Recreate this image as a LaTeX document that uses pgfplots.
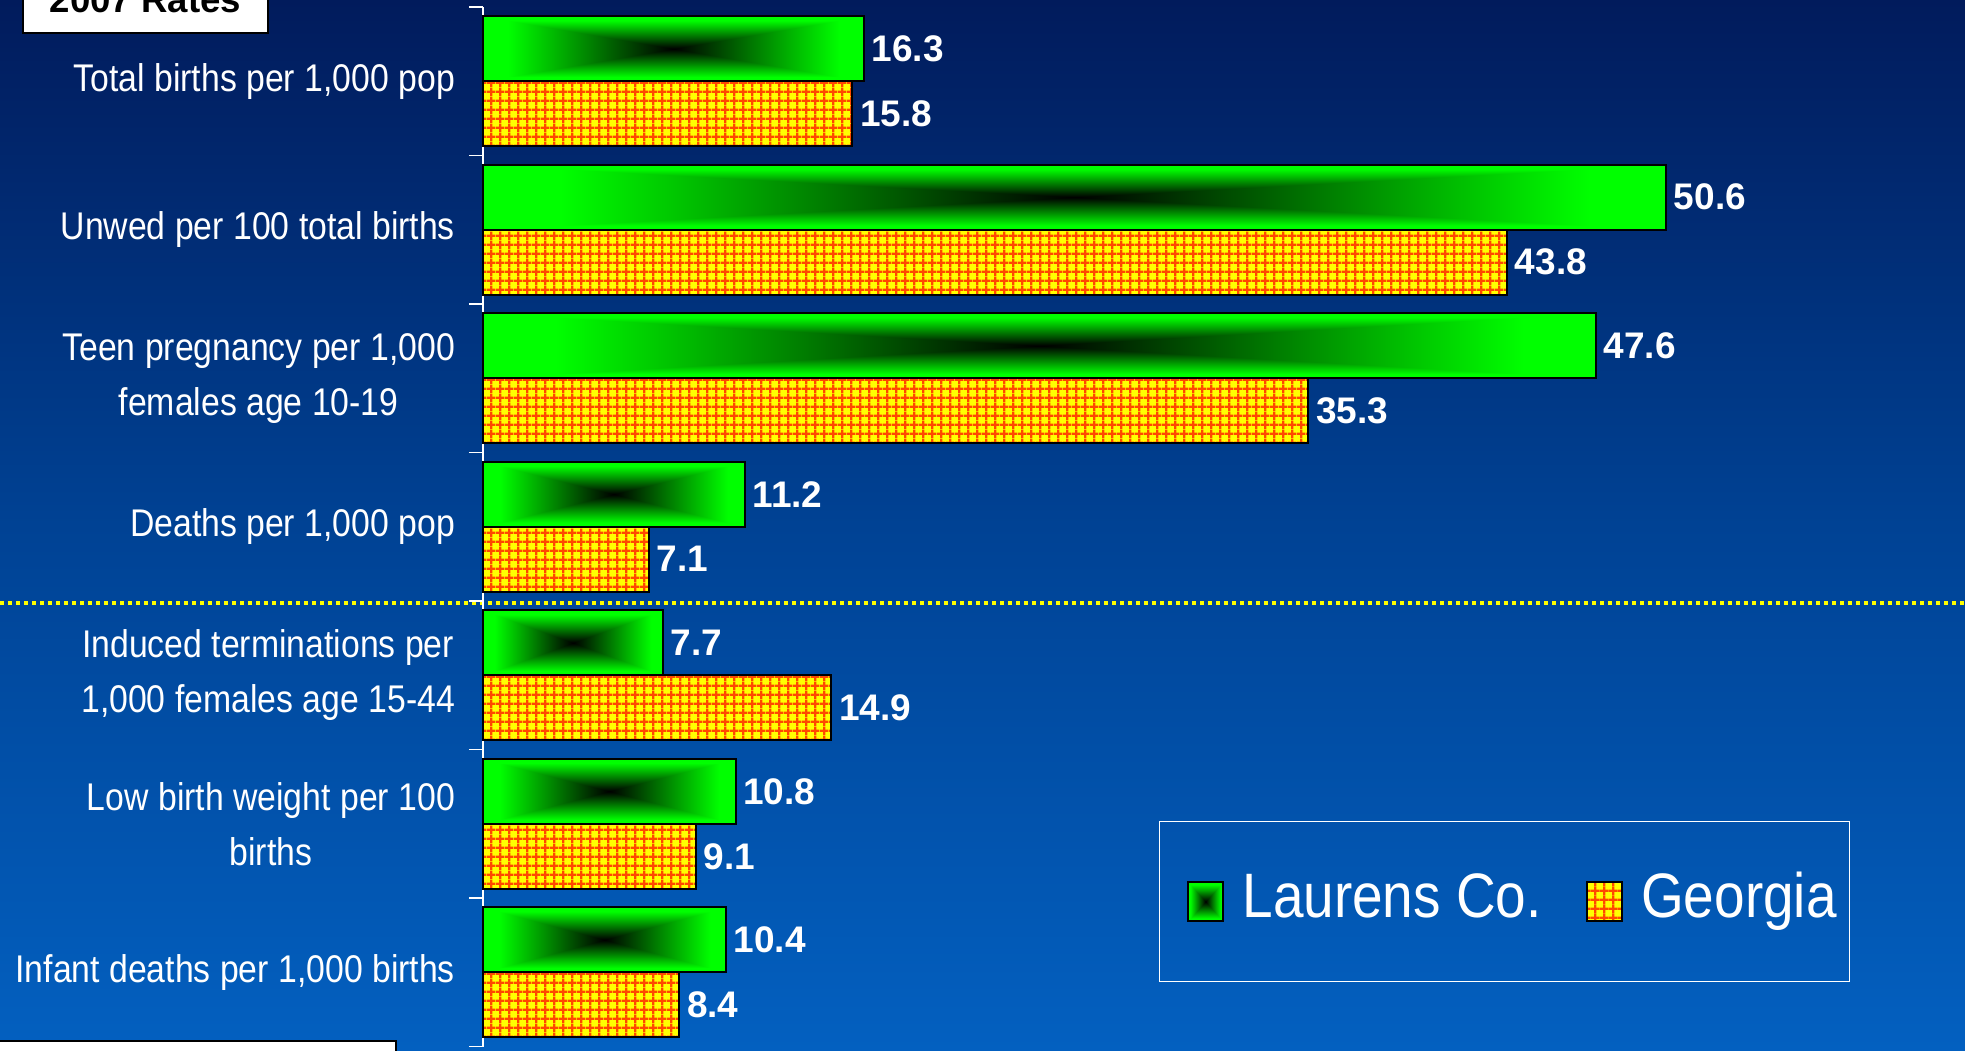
\documentclass[border=0pt]{standalone}
\usepackage{fontspec}
\setmainfont{Liberation Sans}
\newfontfamily\narrow[FakeStretch=0.875]{Liberation Sans}
\usepackage{pgfplots}
\pgfplotsset{compat=1.18}
\usetikzlibrary{patterns.meta}

\definecolor{bgtop}{RGB}{1,27,92}
\definecolor{bgmid}{RGB}{0,66,148}
\definecolor{bgbot}{RGB}{3,96,192}
\definecolor{gridred}{RGB}{255,72,0}
\definecolor{gridyellow}{RGB}{255,255,0}

% green "from centre" rectangular gradient, black in the middle
\pgfdeclarefunctionalshading{rectgreen}{\pgfpoint{0bp}{0bp}}{\pgfpoint{100bp}{100bp}}{}{
  50 sub abs 25 div
  exch 50 sub abs 25 div
  2 copy lt {exch} if pop
  1.15 mul
  dup 1 gt {pop 1} if
  0 exch 0
}

% yellow cells with red-orange grid lines
\tikzdeclarepattern{
  name=cellgrid,
  type=uncolored,
  bottom left={(0pt,0pt)},
  top right={(4.6pt,4.6pt)},
  tile size={(4.6pt,4.6pt)},
  code={
    \draw[line width=1.2pt] (0pt,2.3pt) -- (4.6pt,2.3pt);
    \draw[line width=1.2pt] (2.3pt,0pt) -- (2.3pt,4.6pt);
  }
}

% one plot per green bar so that each bar gets its own shading
\pgfplotsset{
  greenbar/.style={draw=black, line width=1pt, shading=rectgreen, bar shift=16.25pt},
  orangebar/.style={draw=black, line width=1pt, preaction={fill=gridyellow}, pattern=cellgrid, pattern color=gridred, bar shift=-16.25pt},
}

\begin{document}
\begin{tikzpicture}
\useasboundingbox (0,0) rectangle (982.5pt,525pt);
\clip (0,0) rectangle (982.5pt,525pt);
\shade[top color=bgtop, bottom color=bgbot, middle color=bgmid] (0,0) rectangle (982.5pt,525pt);
\draw[gridyellow, line width=2pt, dash pattern=on 2pt off 2pt] (0,223.5pt) -- (982.5pt,223.5pt);
\filldraw[fill=white, draw=black, line width=1pt] (11.5pt,508.5pt) rectangle (134pt,560pt);
\node[anchor=base, font=\bfseries\fontsize{18.3}{20}\selectfont, text=black, inner sep=0pt] at (72.75pt,518.5pt) {2007 Rates};
\filldraw[fill=white, draw=black, line width=1pt] (-5pt,-20pt) rectangle (198pt,4.5pt);

\begin{axis}[
    at={(241.5pt,1.75pt)}, anchor=south west,
    scale only axis, width=701.5pt, height=519.75pt,
    xmin=0, xmax=60, ymin=-0.5, ymax=6.5, y dir=reverse,
    hide x axis, axis y line*=left,
    y axis line style={white, line width=0.7pt},
    ytick={0,...,6},
    yticklabels={{Total births per 1,000 pop},{Unwed per 100 total births},{Teen pregnancy per 1,000\\females age 10-19},{Deaths per 1,000 pop},{Induced terminations per\\1,000 females age 15-44},{Low birth weight per 100\\births},{Infant deaths per 1,000 births}},
    major tick length=0pt,
    minor ytick={-0.5,0.5,...,6.5},
    minor tick length=7pt,
    tick align=outside,
    minor tick style={white, line width=0.7pt},
    yticklabel style={text=white, font=\narrow\fontsize{19.3}{27.5}\selectfont, align=center, xshift=-10.5pt},
    xbar, bar width=32.5pt,
    clip=false,
    nodes near coords={\pgfmathprintnumber[fixed,fixed zerofill,precision=1,assume math mode=true]{\pgfplotspointmeta}},
    nodes near coords style={text=white, font=\bfseries\fontsize{18.5}{20}\selectfont},
    legend columns=2,
    legend style={at={(0.4818,0.2169)}, anchor=north west, draw=white, line width=0.5pt, fill=none, text=white,
        font=\narrow\fontsize{31.4}{36}\selectfont,
        inner xsep=6.3pt, inner ysep=25pt,
        nodes={inner sep=0pt, text height=23pt, text depth=7pt},
        /tikz/every odd column/.append style={column sep=9.3pt},
        /tikz/every even column/.append style={column sep=14.5pt}},
    legend image code/.code={\path (-7.5pt,0pt); \draw[#1, line width=0.8pt] (0pt,-9.75pt) rectangle (17.5pt,9.75pt);},
]
\addplot[greenbar] coordinates {(16.3,0)};
\addplot[orangebar] coordinates {(15.8,0) (43.8,1) (35.3,2) (7.1,3) (14.9,4) (9.1,5) (8.4,6)};
\addplot[greenbar, forget plot] coordinates {(50.6,1)};
\addplot[greenbar, forget plot] coordinates {(47.6,2)};
\addplot[greenbar, forget plot] coordinates {(11.2,3)};
\addplot[greenbar, forget plot] coordinates {(7.7,4)};
\addplot[greenbar, forget plot] coordinates {(10.8,5)};
\addplot[greenbar, forget plot] coordinates {(10.4,6)};
\legend{Laurens Co., Georgia}
\end{axis}
\end{tikzpicture}
\end{document}
